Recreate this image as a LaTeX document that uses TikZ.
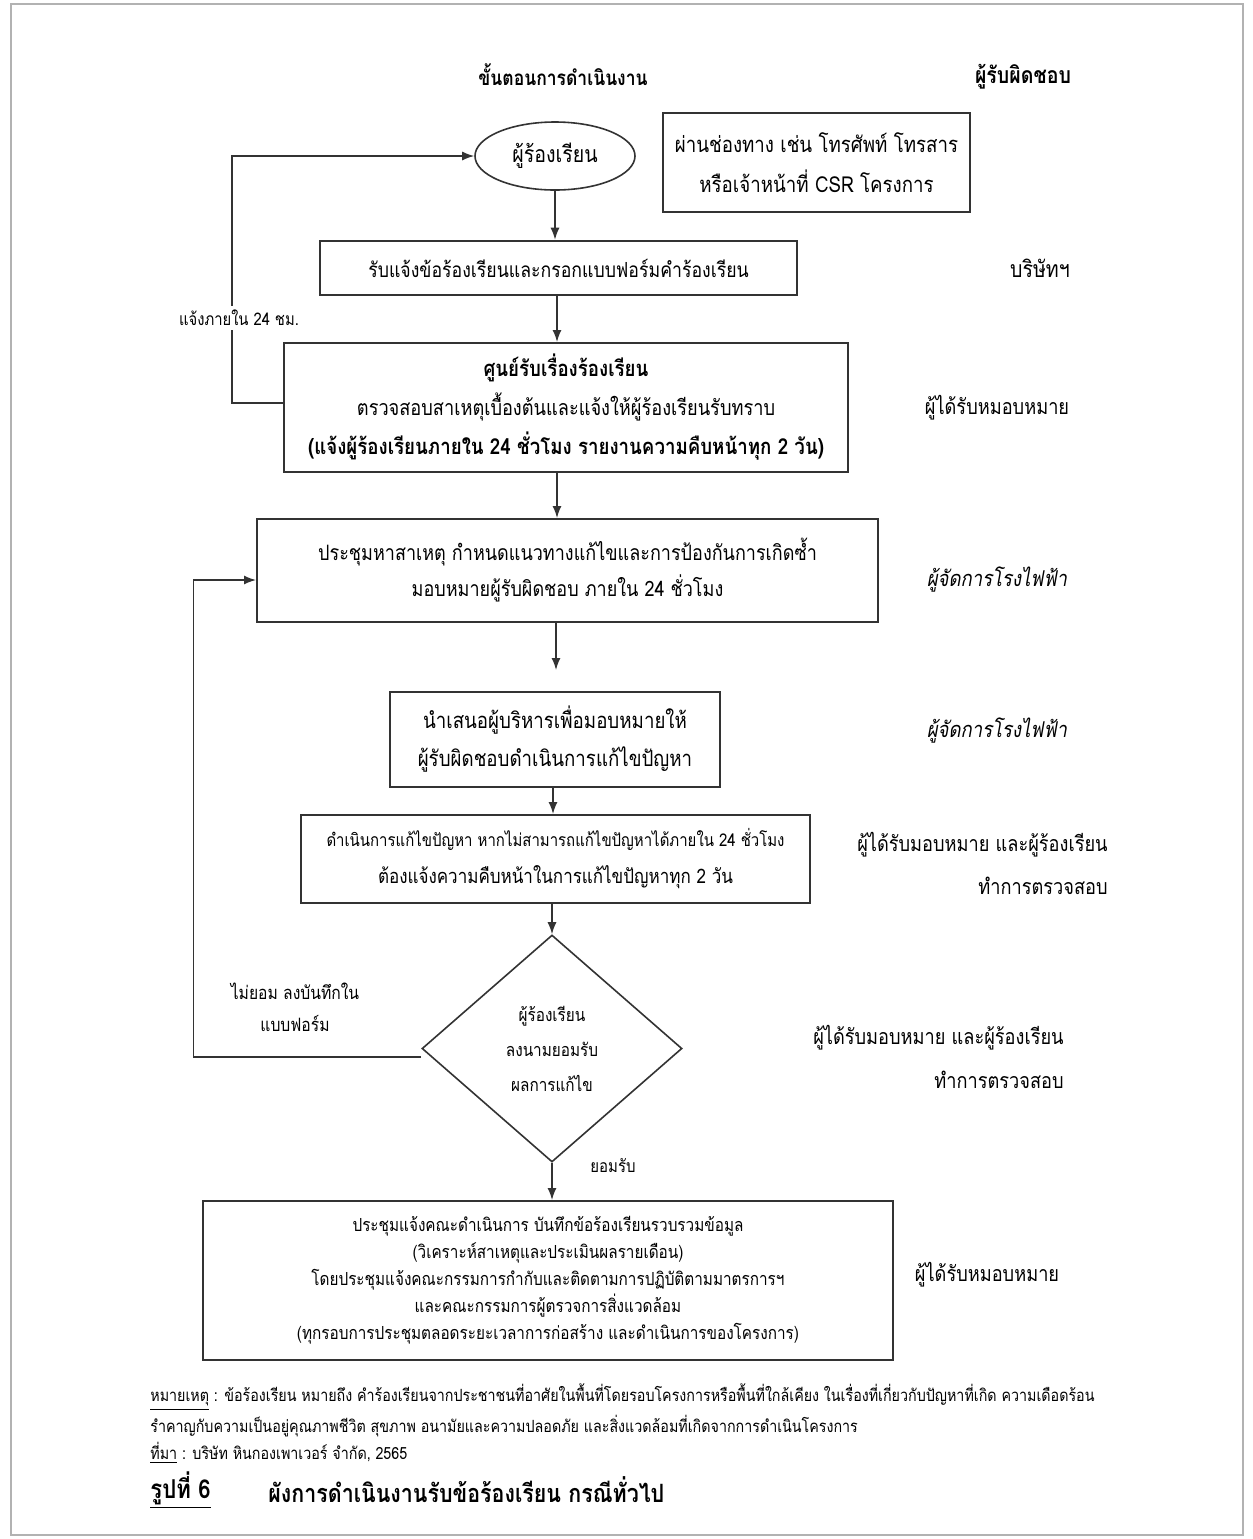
\documentclass[tikz,border=0pt]{standalone}
\usepackage{fontspec}
\setmainfont[Script=Thai,FakeStretch=0.85]{Loma}
\usetikzlibrary{arrows.meta,shapes.geometric}
\definecolor{ink}{HTML}{333333}
\newcommand{\fs}[1]{\fontsize{#1}{1.2\dimexpr#1pt\relax}\selectfont}
\tikzset{
  arr/.style={-{Latex[length=6pt,width=4.5pt]},draw=ink,line width=0.7pt},
  box/.style={draw=ink,line width=1pt,inner sep=0pt,align=center,font=\fontsize{10.7}{19.5}\selectfont},
  lbl/.style={inner sep=0pt,font=\fontsize{10.7}{12}\selectfont},
  note/.style={inner sep=0pt,anchor=west,font=\fontsize{8.4}{10}\selectfont}
}
\begin{document}
\begin{tikzpicture}[x=0.5pt,y=-0.5pt]
\useasboundingbox (0,0) rectangle (1253,1539);
\draw[gray!60,line width=1pt] (11,4) rectangle (1243,1535);

% headers
\node[lbl,font=\fontsize{10.3}{12}\selectfont\bfseries] (h1) at (563,75) {ขั้นตอนการดำเนินงาน};
\node[lbl,font=\fontsize{11.5}{12}\selectfont\bfseries] (h2) at (1023,77) {ผู้รับผิดชอบ};

% nodes
\node[ellipse,draw=ink,line width=0.8pt,minimum width=80pt,minimum height=34pt,inner sep=0pt,font=\fontsize{11.5}{12}\selectfont] (ell) at (555,156) {ผู้ร้องเรียน};
\node[box,line width=0.8pt,minimum width=153.5pt,minimum height=49.5pt,font=\fontsize{11}{20}\selectfont] (csr) at (816.5,162.5) {ผ่านช่องทาง เช่น โทรศัพท์ โทรสาร\\หรือเจ้าหน้าที่ CSR โครงการ};
\node[box,line width=1.3pt,minimum width=238.5pt,minimum height=27pt,font=\fontsize{10.4}{12}\selectfont] (b2) at (558.5,268) {รับแจ้งข้อร้องเรียนและกรอกแบบฟอร์มคำร้องเรียน};
\node[box,minimum width=282pt,minimum height=64.5pt] (b3) at (566,407.5) {{\fontsize{11}{12}\selectfont\bfseries ศูนย์รับเรื่องร้องเรียน}\\ตรวจสอบสาเหตุเบื้องต้นและแจ้งให้ผู้ร้องเรียนรับทราบ\\{\fontsize{11}{12}\selectfont\bfseries (แจ้งผู้ร้องเรียนภายใน 24 ชั่วโมง รายงานความคืบหน้าทุก 2 วัน)}};
\node[box,minimum width=310.5pt,minimum height=51.5pt,font=\fontsize{10.6}{18}\selectfont] (b4) at (567.5,570.5) {ประชุมหาสาเหตุ กำหนดแนวทางแก้ไขและการป้องกันการเกิดซ้ำ\\มอบหมายผู้รับผิดชอบ ภายใน 24 ชั่วโมง};
\coordinate (c5) at (556,670);
\node[box,minimum width=165pt,minimum height=47.5pt,font=\fontsize{11}{19}\selectfont] (b5) at (555,739.5) {นำเสนอผู้บริหารเพื่อมอบหมายให้\\ผู้รับผิดชอบดำเนินการแก้ไขปัญหา};
\node[box,minimum width=254.5pt,minimum height=44pt,font=\fontsize{10}{18.5}\selectfont] (b6) at (555.5,859) {{\fontsize{8.8}{10}\selectfont ดำเนินการแก้ไขปัญหา หากไม่สามารถแก้ไขปัญหาได้ภายใน 24 ชั่วโมง}\\ต้องแจ้งความคืบหน้าในการแก้ไขปัญหาทุก 2 วัน};
\node[diamond,draw=ink,line width=0.8pt,minimum width=130pt,minimum height=113.5pt,inner sep=0pt] (d) at (552,1048.5) {};
\node[inner sep=0pt,align=center,font=\fontsize{9}{17.5}\selectfont] (dt) at (d.center) {ผู้ร้องเรียน\\ลงนามยอมรับ\\ผลการแก้ไข};
\node[box,minimum width=345pt,minimum height=79.5pt,font=\fontsize{9}{13.5}\selectfont] (b7) at (548,1280.5) {ประชุมแจ้งคณะดำเนินการ บันทึกข้อร้องเรียนรวบรวมข้อมูล\\(วิเคราะห์สาเหตุและประเมินผลรายเดือน)\\โดยประชุมแจ้งคณะกรรมการกำกับและติดตามการปฏิบัติตามมาตรการฯ\\และคณะกรรมการผู้ตรวจการสิ่งแวดล้อม\\(ทุกรอบการประชุมตลอดระยะเวลาการก่อสร้าง และดำเนินการของโครงการ)};

% connectors
\draw[arr] (ell) -- (ell |- b2.north);
\draw[arr] (b2.south -| 557,0) -- (b3.north -| 557,0);
\draw[arr] (b3.south -| 557,0) -- (b4.north -| 557,0);
\draw[arr] (b4.south -| c5) -- (c5);
\draw[arr] (b5.south -| 553,0) -- (b6.north -| 553,0);
\draw[arr] (b6.south -| d.north) -- (d.north);
\draw[arr] (d.south) -- (d.south |- b7.north);
\draw[arr] ([yshift=2.25pt]b3.west) -- ++(-51,0) |- (ell.west);
\draw[arr] ([yshift=-4.25pt]d.west) -- ++(-228,0) |- ([yshift=-4.75pt]b4.west);

% loop labels
\node[fill=white,inner sep=2pt,font=\fontsize{8.7}{10}\selectfont] (l1) at (239,318) {แจ้งภายใน 24 ชม.};
\node[inner sep=0pt,align=center,font=\fontsize{9.2}{16}\selectfont] (l2) at (295,1007) {ไม่ยอม ลงบันทึกใน\\แบบฟอร์ม};
\node[inner sep=0pt,font=\fontsize{8.8}{10}\selectfont] (l3) at (613,1165) {ยอมรับ};

% responsible
\node[lbl,font=\fontsize{11.5}{12}\selectfont] (r2) at (1040,268) {บริษัทฯ};
\node[lbl] (r3) at (997,408) {ผู้ได้รับหมอบหมาย};
\node[lbl,font=\fontsize{10.9}{12}\selectfont\itshape] (r4) at (997,580) {ผู้จัดการโรงไฟฟ้า};
\node[lbl,font=\fontsize{10.9}{12}\selectfont\itshape] (r5) at (997,731) {ผู้จัดการโรงไฟฟ้า};
\node[lbl,anchor=east] (r6a) at (1108,845) {ผู้ได้รับมอบหมาย และผู้ร้องเรียน};
\node[lbl,anchor=east] (r6b) at (1108,886) {ทำการตรวจสอบ};
\node[lbl,anchor=east] (rda) at (1064,1038) {ผู้ได้รับมอบหมาย และผู้ร้องเรียน};
\node[lbl,anchor=east] (rdb) at (1064,1080) {ทำการตรวจสอบ};
\node[lbl] (r7) at (987,1275) {ผู้ได้รับหมอบหมาย};

% notes
\node[note] (n1) at (150,1397) {\underline{หมายเหตุ} : ข้อร้องเรียน หมายถึง คำร้องเรียนจากประชาชนที่อาศัยในพื้นที่โดยรอบโครงการหรือพื้นที่ใกล้เคียง ในเรื่องที่เกี่ยวกับปัญหาที่เกิด ความเดือดร้อน};
\node[note] (n2) at (150,1426) {รำคาญกับความเป็นอยู่คุณภาพชีวิต สุขภาพ อนามัยและความปลอดภัย และสิ่งแวดล้อมที่เกิดจากการดำเนินโครงการ};
\node[note] (n3) at (150,1453) {\underline{ที่มา} : บริษัท หินกองเพาเวอร์ จำกัด, 2565};
\node[note,font=\fontsize{13}{15}\selectfont\bfseries] (cap1) at (150,1490) {\underline{รูปที่ 6}};
\node[note,font=\fontsize{12.6}{15}\selectfont\bfseries] (cap2) at (268,1490) {ผังการดำเนินงานรับข้อร้องเรียน กรณีทั่วไป};
\end{tikzpicture}
\end{document}
